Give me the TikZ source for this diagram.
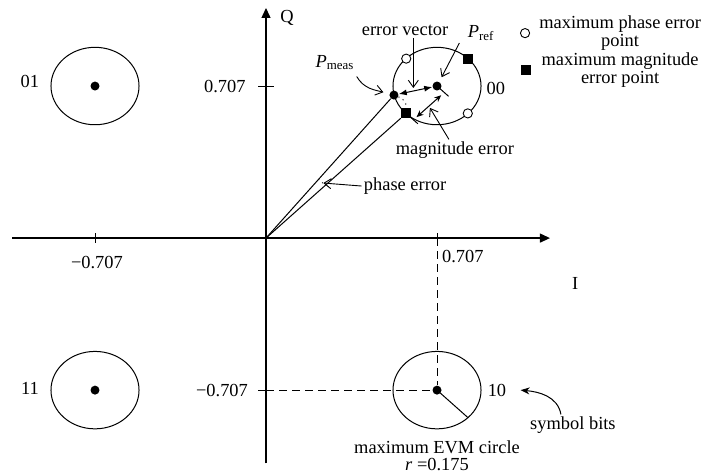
\documentclass[tikz,border=0pt]{standalone}
\usepackage{fontspec}
\setmainfont{Liberation Serif}
\usetikzlibrary{arrows.meta, calc}
\tikzset{
  axis/.style={line width=0.6pt, -{Triangle[length=5pt,width=4.5pt]}},
  tick/.style={line width=0.5pt},
  guide/.style={line width=0.5pt, dash pattern=on 4pt off 2.5pt},
  evm/.style={line width=0.5pt},
  sym/.style={circle, fill=black, inner sep=0pt, minimum size=4.5pt},
  phpt/.style={circle, draw, fill=white, line width=0.45pt, inner sep=0pt, minimum size=4.6pt},
  mgpt/.style={rectangle, fill=black, inner sep=0pt, minimum size=5pt},
  lbl/.style={inner sep=1pt, align=center},
  ptr/.style={-{Straight Barb[length=3.5pt,width=5pt]}, line width=0.45pt},
  evec/.style={{Latex[length=4pt,width=3pt]}-{Latex[length=4pt,width=3pt]}, line width=0.5pt},
  dim/.style={{Stealth[length=3.5pt,width=3pt]}-{Stealth[length=3.5pt,width=3pt]}, line width=0.5pt},
  bits/.style={-{Stealth[length=4.5pt,width=3.5pt]}, line width=0.5pt}
}

\begin{document}
\begin{tikzpicture}[x=120.9pt, y=107.5pt, font=\fontsize{9.2}{8.8}\selectfont]
  \useasboundingbox (-1.0998,-1.093) rectangle (1.8605,1.107);
  \coordinate (o) at (0,0);
  % axes
  \draw[axis] (-1.05,0) -- (1.174,0);
  \draw[axis] (0,-1.047) -- (0,1.07);
  \node[lbl] (iax) at (1.278,-0.209) {I};
  \node[lbl] (qax) at (0.087,1.023) {Q};
  % ticks
  \draw[tick] (0.707,0.023) -- (0.707,-0.023);
  \draw[tick] (-0.707,0.023) -- (-0.707,-0.023);
  \draw[tick] (-0.033,0.707) -- (0.033,0.707);
  \draw[tick] (-0.033,-0.707) -- (0.033,-0.707);
  \node[lbl] (tx1) at (0.814,-0.084) {0.707};
  \node[lbl] (tx2) at (-0.699,-0.112) {−0.707};
  \node[lbl] (ty1) at (-0.170,0.707) {0.707};
  \node[lbl] (ty2) at (-0.182,-0.707) {−0.707};

  % symbols and EVM circles
  \foreach \n/\x/\y in {00/1/1, 01/-1/1, 11/-1/-1, 10/1/-1} {
    \node[sym] (s\n) at (0.707*\x,0.707*\y) {};
    \draw[evm] (s\n) ellipse [x radius=0.182, y radius=0.18];
  }
  \node[lbl] (l01) at (-0.976,0.726) {01};
  \node[lbl] (l11) at (-0.976,-0.698) {11};
  \node[lbl] (l00) at (0.950,0.695) {00};
  \node[lbl] (l10) at (0.955,-0.707) {10};

  % guides to 10
  \draw[guide] (0,-0.707) -- (s10);
  \draw[guide] (0.707,0) -- (s10);
  \draw[evm] (s10.center) -- ++(-45:0.18);
  \node[lbl] (evml) at (0.707,-1.012) {maximum EVM circle\\\textit{r} =0.175};
  \node[lbl] (sbl) at (1.269,-0.870) {symbol bits};
  \draw[bits] ([xshift=-6pt]sbl.north) to[out=100,in=-5] ([xshift=6pt]l10.east);

  % error points on circle 00
  \node[sym] (pm) at (0.529,0.665) {};
  \node[mgpt] (mg1) at ($(s00)+(225:0.18)$) {};
  \node[mgpt] (mg2) at ($(s00)+(45:0.18)$) {};
  \node[phpt] (ph1) at ($(s00)+(135:0.18)$) {};
  \node[phpt] (ph2) at ($(s00)+(-45:0.18)$) {};
  \draw[evm] (o) -- (pm);
  \draw[evm] (o) -- (mg1);
  \draw[evec] (pm) -- (s00);
  \draw[dotted, line width=0.5pt] (pm) to[bend left=35] (mg1);

  % magnitude error
  \coordinate (m1) at ($(mg1)+(0.03,-0.03)$);
  \coordinate (m2) at ($(s00)+(0.03,-0.03)$);
  \draw[dim] ($(m1)!0.1!(m2)$) -- ($(m2)!0.1!(m1)$);
  \draw[tick] ($(mg1)+(0.012,-0.012)$) -- ($(mg1)+(0.048,-0.048)$);
  \draw[tick] ($(s00)+(0.012,-0.012)$) -- ($(s00)+(0.048,-0.048)$);
  \node[lbl] (mgl) at (0.781,0.409) {magnitude error};
  \draw[ptr, shorten >=1pt] ([xshift=-3pt]mgl.north) -- ($(m1)!0.5!(m2)$);

  % phase error
  \coordinate (pa) at ($(o)!0.41!(pm)$);
  \coordinate (pb) at ($(o)!0.415!(mg1)$);
  \draw[dotted, line width=0.45pt] (pa) to[bend left=25] (pb);
  \node[lbl] (phl) at (0.575,0.242) {phase error};
  \draw[ptr, shorten >=1pt] (phl.west) -- ($(pa)!0.5!(pb)$);

  % labels round circle 00
  \node[lbl] (evl) at (0.575,0.967) {error vector};
  \coordinate (evt) at ($(pm)!0.45!(s00)$);
  \draw[ptr, shorten >=1.5pt] (evl.south -| evt) -- (evt);
  \node[lbl] (prl) at (0.889,0.953) {\textit{P}\textsubscript{ref}};
  \draw[ptr, shorten >=2.5pt] ([xshift=-3pt]prl.south west) -- (s00);
  \node[lbl] (pml) at (0.285,0.814) {\textit{P}\textsubscript{meas}};
  \draw[ptr, shorten >=3pt] ([yshift=-2pt]pml.south east) to[out=-60,in=165] (pm);

  % legend
  \node[phpt] (lgph) at (1.071,0.953) {};
  \node[lbl] (lgphl) at (1.464,0.953) {maximum phase error\\point};
  \node[mgpt] (lgmg) at (1.075,0.781) {};
  \node[lbl] (lgmgl) at (1.464,0.781) {maximum magnitude\\error point};
\end{tikzpicture}
\end{document}
